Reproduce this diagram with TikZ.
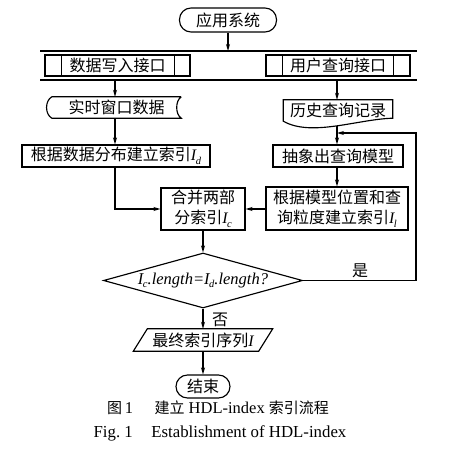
\documentclass[tikz,border=0pt]{standalone}
\usepackage{fontspec}
\setmainfont{Liberation Serif}
\newfontfamily\cjk{Noto Sans CJK SC}
\usetikzlibrary{arrows.meta,shapes.geometric}
\newcommand{\Iv}[1]{{\rmfamily\itshape I}\kern-0.5pt\raisebox{-0.4ex}{\rmfamily\itshape\fontsize{10.5}{10}\selectfont #1}}
\begin{document}
\begin{tikzpicture}[x=1pt,y=-1pt,
  ln/.style={line width=1.15pt},
  txt/.style={font=\cjk\fontsize{16}{20}\selectfont, align=center, inner sep=0pt},
  box/.style={txt, draw, ln},
  arr/.style={ln, -{Stealth[length=7pt,width=4pt]}}]
\useasboundingbox (0,0) rectangle (450,455);
\fill[white] (0,0) rectangle (450,455);
% start
\node[box, rounded corners=11.5pt, minimum width=97pt, minimum height=24pt] (start) at (228,20) {应用系统};
% bus lines
\coordinate (busAL) at (40,51); \coordinate (busAR) at (417,51);
\coordinate (busBL) at (40,80); \coordinate (busBR) at (417,80);
\draw[ln] (busAL) -- (busAR);
\draw[ln] (busBL) -- (busBR);
\coordinate (busA) at (228,51);
\draw[arr] (start) -- (busA);
% interfaces
\node[box, minimum width=145pt, minimum height=21pt] (in1) at (117.5,65.5) {数据写入接口};
\draw[ln] ([xshift=17pt]in1.north west) -- ([xshift=17pt]in1.south west);
\draw[ln] ([xshift=-16pt]in1.north east) -- ([xshift=-16pt]in1.south east);
\node[box, minimum width=144pt, minimum height=21pt] (in2) at (338,65.5) {用户查询接口};
\draw[ln] ([xshift=17pt]in2.north west) -- ([xshift=17pt]in2.south west);
\draw[ln] ([xshift=-17pt]in2.north east) -- ([xshift=-17pt]in2.south east);
\coordinate (b1) at (115,80);
\coordinate (b2) at (337,80);
% stored data
\node[txt, minimum width=129pt, minimum height=21pt] (stored) at (116.5,107.5) {实时窗口数据};
\draw[ln] (stored.north east) -- (stored.north west) .. controls +(-7pt,-4pt) and +(-7pt,4pt) .. (stored.south west) -- (stored.south east) .. controls +(-6pt,4pt) and +(-6pt,-4pt) .. (stored.north east);
\draw[arr] (b1) -- (b1 |- stored.north);
% document
\node[txt, minimum width=109pt, minimum height=21pt] (doc) at (338,110.5) {历史查询记录};
\draw[ln] (doc.south west) .. controls +(28pt,-16pt) and +(-35pt,-1pt) .. ([yshift=3pt]doc.south east) -- (doc.north east) -- (doc.north west) -- cycle;
\draw[arr] (b2) -- (b2 |- doc.north);
\coordinate (docb) at (337,126);
% index boxes
\node[box, minimum width=188pt, minimum height=22pt] (d1) at (116,156) {根据数据分布建立索引\Iv{d}};
\node[box, minimum width=130pt, minimum height=22pt] (abs) at (338,156) {抽象出查询模型};
\draw[arr] (b1 |- stored.south) -- (b1 |- d1.north);
\draw[arr] (docb) -- (docb |- abs.north);
\node[box, minimum width=142pt, minimum height=43pt] (model) at (337,208.5) {根据模型位置和查\\询粒度建立索引\Iv{l}};
\draw[arr] (docb |- abs.south) -- (docb |- model.north);
\node[box, minimum width=84pt, minimum height=42pt] (merge) at (203,209) {合并两部\\分索引\Iv{c}};
\draw[arr] (b1 |- d1.south) |- (merge.west);
\draw[arr] (model.west |- merge) -- (merge.east);
% decision
\node[diamond, draw, ln, minimum width=199pt, minimum height=55pt, inner sep=0pt, shape aspect=3.6, font=\rmfamily\itshape\fontsize{16.5}{20}\selectfont] (dia) at (203,280.5) {\Iv{c}.length=\Iv{d}.length?};
\draw[arr] (merge.south) -- (dia.north);
\coordinate (fbR) at (416,133);
\draw[arr] (dia.east) -- (dia.east -| fbR) -- (fbR) -- (fbR -| docb);
\node[txt] (yes) at (360,271) {是};
% final
\node[txt, minimum width=125pt, minimum height=22pt] (fin) at (203,340) {最终索引序列{\rmfamily\itshape I}};
\draw[ln] ([xshift=7pt]fin.north west) -- ([xshift=7pt]fin.north east) -- ([xshift=-7pt]fin.south east) -- ([xshift=-7pt]fin.south west) -- cycle;
\draw[arr] (dia.south) -- (fin.north);
\node[txt] (no) at (220,320) {否};
\node[box, rounded corners=11.5pt, minimum width=54pt, minimum height=23pt] (stop) at (203,386.5) {结束};
\draw[arr] (fin.south) -- (stop.north);
% captions
\node[font=\fontsize{16.5}{20}\selectfont, inner sep=0pt] (cap1) at (218,408) {{\cjk\fontsize{15}{20}\selectfont 图}\,1\hspace{1.3em}{\cjk\fontsize{15}{20}\selectfont 建立} HDL-index {\cjk\fontsize{15}{20}\selectfont 索引流程}};
\node[font=\fontsize{16.8}{20}\selectfont, inner sep=0pt] (cap2) at (220,433) {Fig.~1\hspace{1.1em}Establishment of HDL-index};
\end{tikzpicture}
\end{document}
